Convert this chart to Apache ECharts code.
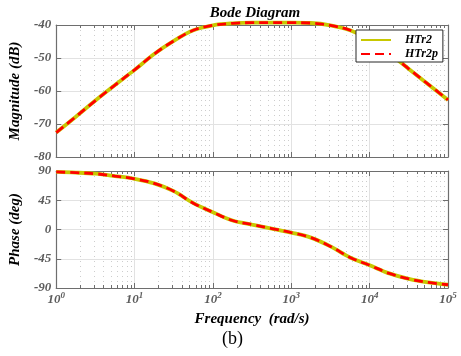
<!DOCTYPE html>
<html>
<head>
<meta charset="utf-8">
<script src="https://cdn.jsdelivr.net/npm/echarts@6/dist/echarts.min.js"></script>
<style>
  html, body { margin: 0; padding: 0; background: #ffffff; }
  #chart { width: 461px; height: 356px; }
</style>
</head>
<body>
<div id="chart"></div>
<script>
// Frequency points (rad/s), quarter-decade steps from 10^0 to 10^5
const frequency = [1, 1.778, 3.162, 5.623, 10, 17.78, 31.62, 56.23, 100, 177.8, 316.2, 562.3,
  1000, 1778, 3162, 5623, 10000, 17783, 31623, 56234, 100000];

// Magnitude response (dB)
const magnitudeHTr2 = [-72.6, -67.8, -62.9, -58.2, -53.6, -48.8, -44.8, -41.6, -40.1, -39.5, -39.3, -39.3,
  -39.3, -39.4, -40.1, -41.6, -44.4, -48.6, -53.3, -58.0, -62.7];
const magnitudeHTr2p = [-72.6, -67.8, -62.9, -58.2, -53.6, -48.8, -44.8, -41.6, -40.1, -39.5, -39.3, -39.3,
  -39.3, -39.4, -40.1, -41.6, -44.4, -48.6, -53.3, -58.0, -62.7];

// Phase response (deg)
const phaseHTr2 = [88.5, 87.5, 85.8, 82.2, 78.0, 71.0, 59.0, 40.5, 26.5, 13.8, 7.5, 1.5,
  -4.8, -12.5, -26.0, -43.0, -55.0, -67.5, -76.0, -81.5, -85.0];
const phaseHTr2p = [88.5, 87.5, 85.8, 82.2, 78.0, 71.0, 59.0, 40.5, 26.5, 13.8, 7.5, 1.5,
  -4.8, -12.5, -26.0, -43.0, -55.0, -67.5, -76.0, -81.5, -85.0];

// Axis ticks
const magnitudeTicks = [-80, -70, -60, -50, -40];
const phaseTicks = [-90, -45, 0, 45, 90];
const decadeExponents = [0, 1, 2, 3, 4, 5];

const SERIF = '"Liberation Serif", "Times New Roman", serif';
const AXIS_COLOR = '#6e6e6e';
const LABEL_COLOR = '#5c5c5c';
const GRID_COLOR = '#e2e2e2';
const MINOR_GRID_COLOR = '#cdcdcd';
const YELLOW = '#c8c800';
const RED = '#ff0000';

const fMin = Math.pow(10, decadeExponents[0]);
const fMax = Math.pow(10, decadeExponents[decadeExponents.length - 1]);

// 2..9 inside every decade, for the dotted minor grid and small ticks
const minorFrequencies = [];
for (let i = 0; i < decadeExponents.length - 1; i++) {
  for (let k = 2; k <= 9; k++) minorFrequencies.push(k * Math.pow(10, decadeExponents[i]));
}

const pairs = (xs, ys) => xs.map((x, i) => [x, ys[i]]);

function freqAxis(gridIndex, position, withLabels) {
  return {
    type: 'log', logBase: 10, gridIndex, position, min: fMin, max: fMax,
    axisLine: { show: true, onZero: false, lineStyle: { color: AXIS_COLOR, width: 1.2 } },
    axisTick: { show: true, inside: true, length: 5, lineStyle: { color: AXIS_COLOR } },
    axisLabel: {
      show: withLabels, margin: 3,
      formatter: v => '{b|10}{s|' + Math.round(Math.log10(v)) + '}',
      rich: {
        b: { fontFamily: SERIF, fontSize: 13, fontStyle: 'italic', fontWeight: 'bold', color: LABEL_COLOR },
        s: { fontFamily: SERIF, fontSize: 9, fontStyle: 'italic', fontWeight: 'bold', color: LABEL_COLOR, padding: [0, 0, 8, 0] }
      }
    },
    splitLine: { show: position === 'bottom', lineStyle: { color: GRID_COLOR, width: 1 } }
  };
}

function valueAxis(gridIndex, position, ticks, withLabels, name) {
  const ax = {
    type: 'value', gridIndex, position,
    min: ticks[0], max: ticks[ticks.length - 1], interval: ticks[1] - ticks[0],
    axisLine: { show: true, lineStyle: { color: AXIS_COLOR, width: 1.2 } },
    axisTick: { show: true, inside: true, length: 5, lineStyle: { color: AXIS_COLOR } },
    axisLabel: {
      show: withLabels, margin: 5,
      fontFamily: SERIF, fontSize: 13, fontStyle: 'italic', fontWeight: 'bold', color: LABEL_COLOR
    },
    splitLine: { show: position === 'left', lineStyle: { color: GRID_COLOR, width: 1 } }
  };
  if (name) {
    Object.assign(ax, {
      name, nameLocation: 'middle', nameGap: 24, nameRotate: 90,
      nameTextStyle: { fontFamily: SERIF, fontSize: 15, fontStyle: 'italic', fontWeight: 'bold', color: '#000' }
    });
  }
  return ax;
}

function minorGrid(xAxisIndex, yAxisIndex, ticks) {
  const yLo = ticks[0], yHi = ticks[ticks.length - 1];
  return {
    type: 'custom', xAxisIndex, yAxisIndex, silent: true, z: 1,
    data: minorFrequencies.map(f => [f, yLo]),
    encode: { x: 0, y: 1 },
    renderItem(params, api) {
      const f = api.value(0);
      const top = api.coord([f, yHi]);
      const bot = api.coord([f, yLo]);
      const x = Math.round(top[0]) + 0.5;
      return {
        type: 'group',
        children: [
          { type: 'line', shape: { x1: x, y1: top[1], x2: x, y2: bot[1] },
            style: { stroke: MINOR_GRID_COLOR, lineWidth: 1, lineDash: [1, 4] } },
          { type: 'line', shape: { x1: x, y1: top[1], x2: x, y2: top[1] + 3 },
            style: { stroke: AXIS_COLOR, lineWidth: 1 } },
          { type: 'line', shape: { x1: x, y1: bot[1], x2: x, y2: bot[1] - 3 },
            style: { stroke: AXIS_COLOR, lineWidth: 1 } }
        ]
      };
    }
  };
}

function curve(name, xAxisIndex, yAxisIndex, values, dashed) {
  return {
    type: 'line', name, xAxisIndex, yAxisIndex,
    data: pairs(frequency, values),
    symbol: 'none', smooth: 0.35, clip: false, z: dashed ? 4 : 3,
    color: dashed ? RED : YELLOW,
    lineStyle: dashed
      ? { color: RED, width: 2.8, type: [9, 5] }
      : { color: YELLOW, width: 3.8 }
  };
}

const chart = echarts.init(document.getElementById('chart'), null, { renderer: 'canvas' });
chart.setOption({
  animation: false,
  backgroundColor: '#ffffff',
  title: {
    text: 'Bode Diagram', left: 250, top: 1, textAlign: 'center',
    textStyle: { fontFamily: SERIF, fontSize: 15, fontStyle: 'italic', fontWeight: 'bold', color: '#000' }
  },
  legend: {
    data: ['HTr2', 'HTr2p'], orient: 'vertical', left: 356, top: 30,
    itemWidth: 30, itemHeight: 11, itemGap: 2, padding: [4, 5, 2, 4],
    borderColor: '#262626', borderWidth: 1, backgroundColor: '#ffffff',
    itemStyle: { opacity: 0 },
    lineStyle: { width: 2 },
    textStyle: { fontFamily: SERIF, fontSize: 12, fontStyle: 'italic', fontWeight: 'bold', color: '#000', padding: [0, 0, 0, 9] },
    z: 10
  },
  grid: [
    { left: 53, top: 25, width: 395, height: 132 },
    { left: 53, top: 171, width: 395, height: 117 }
  ],
  xAxis: [
    freqAxis(0, 'bottom', false),
    freqAxis(0, 'top', false),
    Object.assign(freqAxis(1, 'bottom', true), {
      name: 'Frequency  (rad/s)', nameLocation: 'middle', nameGap: 24,
      nameTextStyle: { fontFamily: SERIF, fontSize: 15, fontStyle: 'italic', fontWeight: 'bold', color: '#000' }
    }),
    freqAxis(1, 'top', false)
  ],
  yAxis: [
    valueAxis(0, 'left', magnitudeTicks, true, 'Magnitude (dB)'),
    valueAxis(0, 'right', magnitudeTicks, false),
    valueAxis(1, 'left', phaseTicks, true, 'Phase (deg)'),
    valueAxis(1, 'right', phaseTicks, false)
  ],
  graphic: [
    { type: 'text', left: 222, top: 330,
      style: { text: '(b)', fontFamily: SERIF, fontSize: 18, fill: '#000' } }
  ],
  series: [
    minorGrid(0, 0, magnitudeTicks),
    minorGrid(2, 2, phaseTicks),
    curve('HTr2', 0, 0, magnitudeHTr2, false),
    curve('HTr2p', 0, 0, magnitudeHTr2p, true),
    curve('HTr2', 2, 2, phaseHTr2, false),
    curve('HTr2p', 2, 2, phaseHTr2p, true)
  ]
});
</script>
</body>
</html>
